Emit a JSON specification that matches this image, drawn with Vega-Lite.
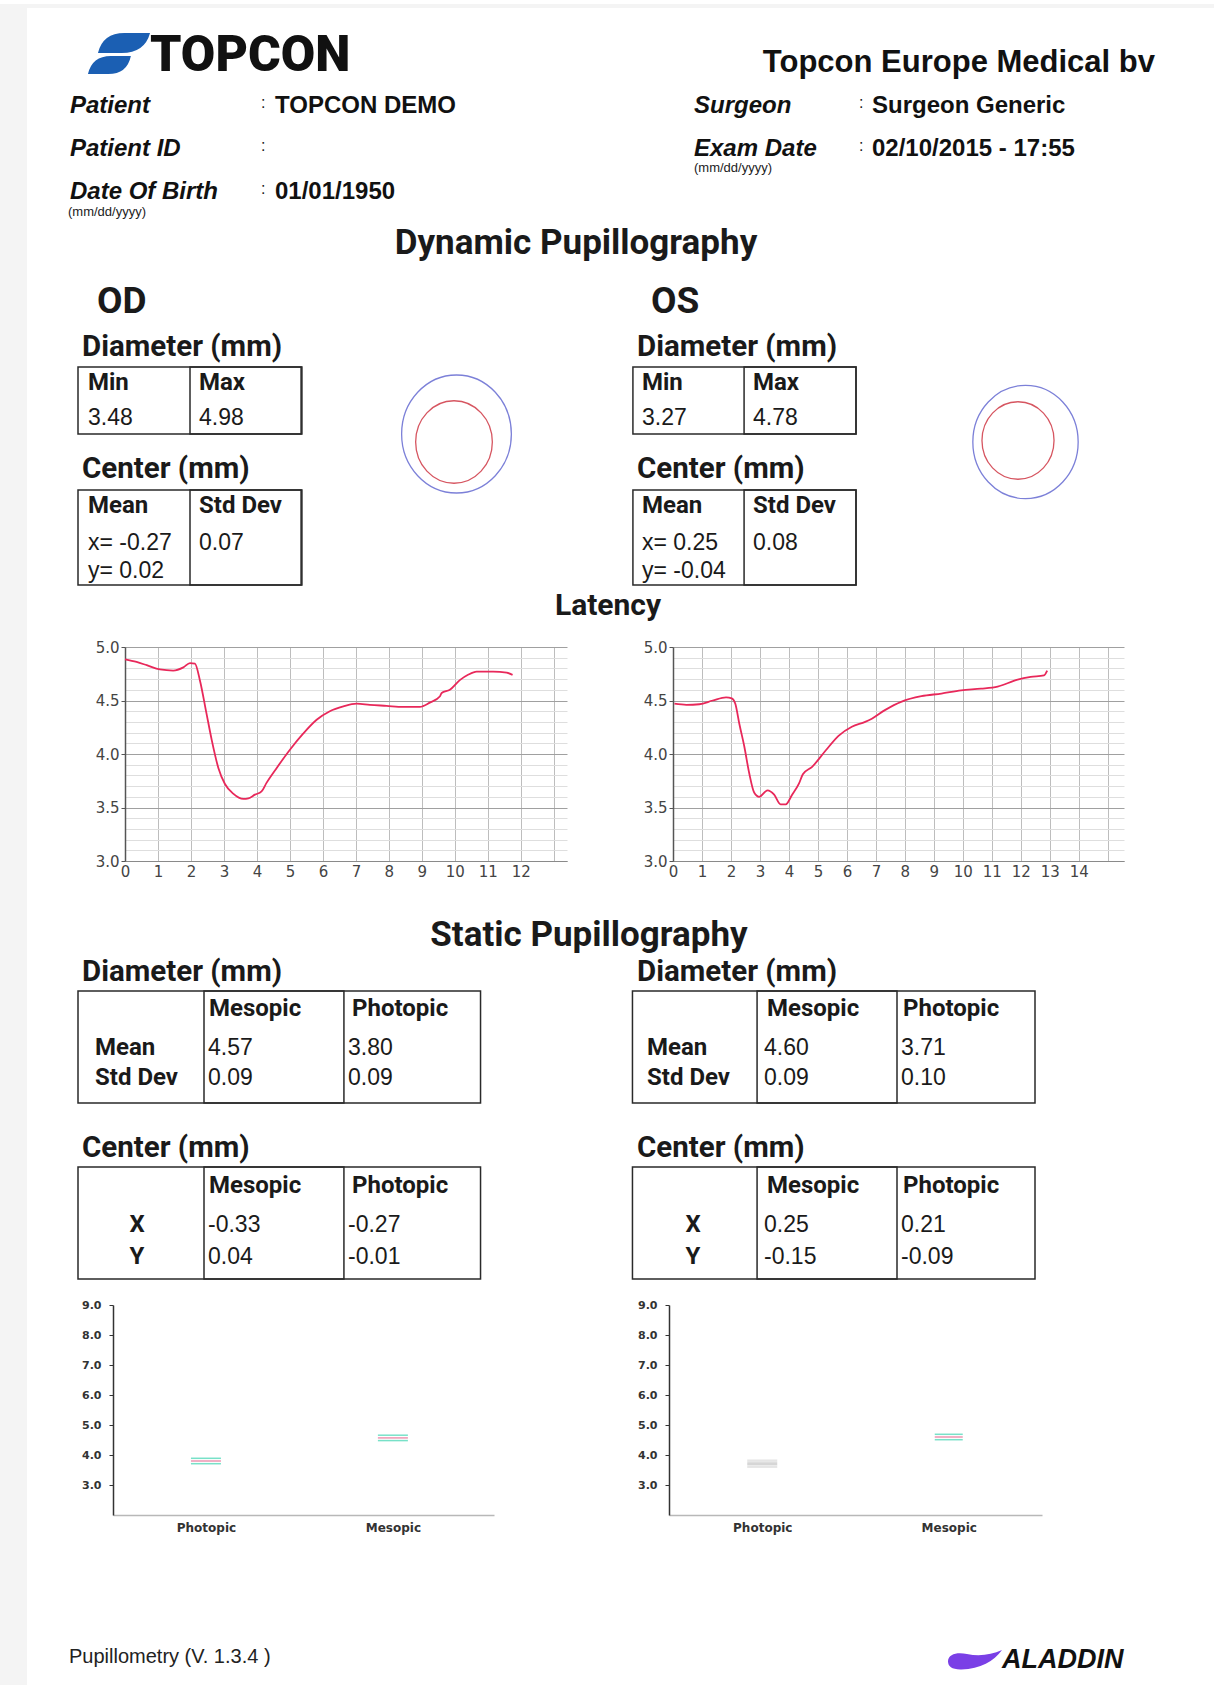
{
"$schema": "https://vega.github.io/schema/vega-lite/v6.json",
"background": "#ffffff",
"padding": 0,
"spacing": 0,
"bounds": "flush",
"config": {"view": {"stroke": null}},
"datasets": {
"brand": [{"brand": "TOPCON", "company": "Topcon Europe Medical bv", "software": "Pupillometry (V. 1.3.4 )", "vendor": "ALADDIN"}],
"header": [
{"side": "left", "line": "1", "label": "Patient", "value": "TOPCON DEMO"},
{"side": "left", "line": "2", "label": "Patient ID", "value": ""},
{"side": "left", "line": "3", "label": "Date Of Birth", "value": "01/01/1950", "note": "(mm/dd/yyyy)"},
{"side": "right", "line": "1", "label": "Surgeon", "value": "Surgeon Generic"},
{"side": "right", "line": "2", "label": "Exam Date", "value": "02/10/2015 - 17:55", "note": "(mm/dd/yyyy)"}
],
"titles": [{"title": "Dynamic Pupillography"}, {"title": "Latency"}, {"title": "Static Pupillography"}],
"eyes": [{"eye": "OD"}, {"eye": "OS"}],
"headings": [
{"eye": "OD", "heading": "Diameter (mm)"}, {"eye": "OD", "heading": "Center (mm)"},
{"eye": "OS", "heading": "Diameter (mm)"}, {"eye": "OS", "heading": "Center (mm)"}
],
"tables": [
{"eye": "OD", "table": "Diameter"}, {"eye": "OD", "table": "Center"},
{"eye": "OS", "table": "Diameter"}, {"eye": "OS", "table": "Center"}
],
"dynCells": [
{"eye": "OD", "table": "Diameter", "col": "c1", "row": "head", "text": "Min"},
{"eye": "OD", "table": "Diameter", "col": "c2", "row": "head", "text": "Max"},
{"eye": "OD", "table": "Diameter", "col": "c1", "row": "r1", "text": "3.48"},
{"eye": "OD", "table": "Diameter", "col": "c2", "row": "r1", "text": "4.98"},
{"eye": "OD", "table": "Center", "col": "c1", "row": "head", "text": "Mean"},
{"eye": "OD", "table": "Center", "col": "c2", "row": "head", "text": "Std Dev"},
{"eye": "OD", "table": "Center", "col": "c1", "row": "r1", "text": "x= -0.27"},
{"eye": "OD", "table": "Center", "col": "c1", "row": "r2", "text": "y= 0.02"},
{"eye": "OD", "table": "Center", "col": "c2", "row": "r1", "text": "0.07"},
{"eye": "OS", "table": "Diameter", "col": "c1", "row": "head", "text": "Min"},
{"eye": "OS", "table": "Diameter", "col": "c2", "row": "head", "text": "Max"},
{"eye": "OS", "table": "Diameter", "col": "c1", "row": "r1", "text": "3.27"},
{"eye": "OS", "table": "Diameter", "col": "c2", "row": "r1", "text": "4.78"},
{"eye": "OS", "table": "Center", "col": "c1", "row": "head", "text": "Mean"},
{"eye": "OS", "table": "Center", "col": "c2", "row": "head", "text": "Std Dev"},
{"eye": "OS", "table": "Center", "col": "c1", "row": "r1", "text": "x= 0.25"},
{"eye": "OS", "table": "Center", "col": "c1", "row": "r2", "text": "y= -0.04"},
{"eye": "OS", "table": "Center", "col": "c2", "row": "r1", "text": "0.08"}
],
"rings": [
{"eye": "OD", "ring": "Max", "diameter": 4.98},
{"eye": "OD", "ring": "Min", "diameter": 3.48},
{"eye": "OS", "ring": "Max", "diameter": 4.78},
{"eye": "OS", "ring": "Min", "diameter": 3.27}
],
"statCells": [
{"eye": "OD", "table": "Diameter", "col": "Mesopic", "row": "head", "text": "Mesopic"},
{"eye": "OD", "table": "Diameter", "col": "Photopic", "row": "head", "text": "Photopic"},
{"eye": "OD", "table": "Diameter", "col": "label", "row": "Mean", "text": "Mean"},
{"eye": "OD", "table": "Diameter", "col": "label", "row": "Std Dev", "text": "Std Dev"},
{"eye": "OD", "table": "Diameter", "col": "Mesopic", "row": "Mean", "text": "4.57"},
{"eye": "OD", "table": "Diameter", "col": "Photopic", "row": "Mean", "text": "3.80"},
{"eye": "OD", "table": "Diameter", "col": "Mesopic", "row": "Std Dev", "text": "0.09"},
{"eye": "OD", "table": "Diameter", "col": "Photopic", "row": "Std Dev", "text": "0.09"},
{"eye": "OD", "table": "Center", "col": "Mesopic", "row": "head", "text": "Mesopic"},
{"eye": "OD", "table": "Center", "col": "Photopic", "row": "head", "text": "Photopic"},
{"eye": "OD", "table": "Center", "col": "label", "row": "X", "text": "X"},
{"eye": "OD", "table": "Center", "col": "label", "row": "Y", "text": "Y"},
{"eye": "OD", "table": "Center", "col": "Mesopic", "row": "X", "text": "-0.33"},
{"eye": "OD", "table": "Center", "col": "Photopic", "row": "X", "text": "-0.27"},
{"eye": "OD", "table": "Center", "col": "Mesopic", "row": "Y", "text": "0.04"},
{"eye": "OD", "table": "Center", "col": "Photopic", "row": "Y", "text": "-0.01"},
{"eye": "OS", "table": "Diameter", "col": "Mesopic", "row": "head", "text": "Mesopic"},
{"eye": "OS", "table": "Diameter", "col": "Photopic", "row": "head", "text": "Photopic"},
{"eye": "OS", "table": "Diameter", "col": "label", "row": "Mean", "text": "Mean"},
{"eye": "OS", "table": "Diameter", "col": "label", "row": "Std Dev", "text": "Std Dev"},
{"eye": "OS", "table": "Diameter", "col": "Mesopic", "row": "Mean", "text": "4.60"},
{"eye": "OS", "table": "Diameter", "col": "Photopic", "row": "Mean", "text": "3.71"},
{"eye": "OS", "table": "Diameter", "col": "Mesopic", "row": "Std Dev", "text": "0.09"},
{"eye": "OS", "table": "Diameter", "col": "Photopic", "row": "Std Dev", "text": "0.10"},
{"eye": "OS", "table": "Center", "col": "Mesopic", "row": "head", "text": "Mesopic"},
{"eye": "OS", "table": "Center", "col": "Photopic", "row": "head", "text": "Photopic"},
{"eye": "OS", "table": "Center", "col": "label", "row": "X", "text": "X"},
{"eye": "OS", "table": "Center", "col": "label", "row": "Y", "text": "Y"},
{"eye": "OS", "table": "Center", "col": "Mesopic", "row": "X", "text": "0.25"},
{"eye": "OS", "table": "Center", "col": "Photopic", "row": "X", "text": "0.21"},
{"eye": "OS", "table": "Center", "col": "Mesopic", "row": "Y", "text": "-0.15"},
{"eye": "OS", "table": "Center", "col": "Photopic", "row": "Y", "text": "-0.09"}
],
"latOD": [
{"t": 0, "d": 4.885}, {"t": 0.35, "d": 4.86}, {"t": 0.66, "d": 4.83}, {"t": 1.06, "d": 4.79}, {"t": 1.46, "d": 4.78},
{"t": 1.77, "d": 4.81}, {"t": 1.97, "d": 4.85}, {"t": 2.12, "d": 4.845}, {"t": 2.27, "d": 4.69}, {"t": 2.47, "d": 4.38},
{"t": 2.63, "d": 4.13}, {"t": 2.83, "d": 3.87}, {"t": 3.03, "d": 3.72}, {"t": 3.28, "d": 3.63}, {"t": 3.59, "d": 3.58},
{"t": 3.74, "d": 3.585}, {"t": 3.94, "d": 3.62}, {"t": 4.14, "d": 3.65}, {"t": 4.29, "d": 3.73}, {"t": 4.6, "d": 3.87},
{"t": 5.0, "d": 4.04}, {"t": 5.4, "d": 4.19}, {"t": 5.81, "d": 4.32}, {"t": 6.21, "d": 4.4}, {"t": 6.62, "d": 4.445},
{"t": 7.02, "d": 4.47}, {"t": 7.42, "d": 4.46}, {"t": 7.93, "d": 4.45}, {"t": 8.43, "d": 4.44}, {"t": 8.94, "d": 4.44},
{"t": 9.24, "d": 4.48}, {"t": 9.55, "d": 4.54}, {"t": 9.6, "d": 4.57}, {"t": 9.85, "d": 4.6}, {"t": 10.15, "d": 4.69},
{"t": 10.4, "d": 4.74}, {"t": 10.66, "d": 4.77}, {"t": 11.16, "d": 4.77}, {"t": 11.57, "d": 4.76}, {"t": 11.75, "d": 4.74}
],
"latOS": [
{"t": 0.05, "d": 4.47}, {"t": 0.46, "d": 4.46}, {"t": 0.91, "d": 4.465}, {"t": 1.37, "d": 4.5}, {"t": 1.83, "d": 4.53},
{"t": 2.03, "d": 4.52}, {"t": 2.15, "d": 4.47}, {"t": 2.29, "d": 4.28}, {"t": 2.46, "d": 4.07}, {"t": 2.63, "d": 3.82},
{"t": 2.8, "d": 3.64}, {"t": 2.97, "d": 3.6}, {"t": 3.26, "d": 3.66}, {"t": 3.49, "d": 3.62}, {"t": 3.71, "d": 3.53},
{"t": 3.89, "d": 3.53}, {"t": 4.11, "d": 3.62}, {"t": 4.34, "d": 3.72}, {"t": 4.48, "d": 3.81}, {"t": 4.8, "d": 3.88},
{"t": 5.26, "d": 4.03}, {"t": 5.71, "d": 4.17}, {"t": 6.17, "d": 4.255}, {"t": 6.63, "d": 4.3}, {"t": 6.86, "d": 4.33},
{"t": 7.31, "d": 4.41}, {"t": 7.89, "d": 4.49}, {"t": 8.57, "d": 4.54}, {"t": 9.26, "d": 4.565}, {"t": 9.94, "d": 4.595},
{"t": 10.63, "d": 4.61}, {"t": 11.2, "d": 4.63}, {"t": 11.89, "d": 4.695}, {"t": 12.34, "d": 4.72}, {"t": 12.8, "d": 4.735},
{"t": 12.91, "d": 4.78}
],
"static": [
{"eye": "OD", "condition": "Photopic", "mean": 3.80, "sd": 0.09},
{"eye": "OD", "condition": "Mesopic", "mean": 4.57, "sd": 0.09},
{"eye": "OS", "condition": "Photopic", "mean": 3.71, "sd": 0.10},
{"eye": "OS", "condition": "Mesopic", "mean": 4.60, "sd": 0.09}
]
},
"hconcat": [
{"width": 27, "height": 1685, "view": {"fill": "#f4f4f4", "stroke": null}, "data": {"values": [{}]}, "mark": "text", "encoding": {"text": {"value": ""}}},
{"spacing": 0, "bounds": "flush", "vconcat": [
{"width": 1187, "height": 4, "view": {"fill": "#f4f4f4", "stroke": null}, "data": {"values": [{}]}, "mark": "text", "encoding": {"text": {"value": ""}}},
{"width": 1187, "height": 639,
 "resolve": {"scale": {"x": "independent", "y": "independent"}},
 "layer": [
 {"data": {"name": "brand"}, "mark": {"type": "point", "shape": "M -0.78 -0.04 Q -0.6 -0.78 0.2 -0.78 L 1.15 -0.78 Q 0.95 -0.04 0.1 -0.04 Z M -1.15 0.74 Q -1.0 0.07 -0.3 0.07 L 0.44 0.07 Q 0.3 0.74 -0.4 0.74 Z", "filled": true, "color": "#1b5fb3", "opacity": 1, "size": 2916, "strokeWidth": 0},
  "encoding": {"x": {"field": "brand", "type": "nominal", "scale": {"type": "point", "range": [92, 92], "padding": 0}, "axis": null},
               "y": {"field": "brand", "type": "nominal", "scale": {"type": "point", "range": [46, 46], "padding": 0}, "axis": null}}},
 {"data": {"name": "brand"}, "mark": {"type": "text", "font": "Roboto", "fontWeight": 900, "fontSize": 50, "align": "left", "baseline": "middle", "color": "#111111"},
  "encoding": {"x": {"field": "brand", "type": "nominal", "scale": {"type": "point", "range": [123, 123], "padding": 0}, "axis": null},
               "y": {"field": "brand", "type": "nominal", "scale": {"type": "point", "range": [48, 48], "padding": 0}, "axis": null},
               "text": {"field": "brand"}}},
 {"data": {"name": "brand"}, "mark": {"type": "text", "font": "Liberation Sans, Arial, sans-serif", "fontWeight": "bold", "fontSize": 31, "align": "right", "baseline": "middle", "color": "#111111"},
  "encoding": {"x": {"field": "company", "type": "nominal", "scale": {"type": "point", "range": [1128, 1128], "padding": 0}, "axis": null},
               "y": {"field": "company", "type": "nominal", "scale": {"type": "point", "range": [55, 55], "padding": 0}, "axis": null},
               "text": {"field": "company"}}},
 {"data": {"name": "header"}, "mark": {"type": "text", "font": "Liberation Sans, Arial, sans-serif", "fontWeight": "bold", "fontStyle": "italic", "fontSize": 24, "align": "left", "baseline": "middle", "color": "#111111"},
  "encoding": {"x": {"field": "side", "type": "nominal", "scale": {"type": "point", "domain": ["left", "right"], "range": [43, 667], "padding": 0}, "axis": null},
               "y": {"field": "line", "type": "nominal", "scale": {"type": "point", "domain": ["1", "2", "3"], "range": [98, 184], "padding": 0}, "axis": null},
               "text": {"field": "label"}}},
 {"data": {"name": "header"}, "mark": {"type": "text", "font": "Liberation Sans, sans-serif", "fontSize": 16, "align": "left", "baseline": "middle", "color": "#222222", "dy": -3},
  "encoding": {"x": {"field": "side", "type": "nominal", "scale": {"type": "point", "domain": ["left", "right"], "range": [234, 832], "padding": 0}, "axis": null},
               "y": {"field": "line", "type": "nominal", "scale": {"type": "point", "domain": ["1", "2", "3"], "range": [98, 184], "padding": 0}, "axis": null},
               "text": {"value": ":"}}},
 {"data": {"name": "header"}, "mark": {"type": "text", "font": "Liberation Sans, Arial, sans-serif", "fontWeight": "bold", "fontSize": 24, "align": "left", "baseline": "middle", "color": "#111111"},
  "encoding": {"x": {"field": "side", "type": "nominal", "scale": {"type": "point", "domain": ["left", "right"], "range": [248, 845], "padding": 0}, "axis": null},
               "y": {"field": "line", "type": "nominal", "scale": {"type": "point", "domain": ["1", "2", "3"], "range": [98, 184], "padding": 0}, "axis": null},
               "text": {"field": "value"}}},
 {"data": {"name": "header"}, "transform": [{"filter": "datum.note && datum.side === 'left'"}], "mark": {"type": "text", "font": "Liberation Sans, Arial, sans-serif", "fontSize": 13, "align": "left", "baseline": "middle", "color": "#222222", "dy": 20},
  "encoding": {"x": {"field": "side", "type": "nominal", "scale": {"type": "point", "domain": ["left", "right"], "range": [41, 667], "padding": 0}, "axis": null},
               "y": {"field": "line", "type": "nominal", "scale": {"type": "point", "domain": ["1", "2", "3"], "range": [98, 184], "padding": 0}, "axis": null},
               "text": {"field": "note"}}},
 {"data": {"name": "header"}, "transform": [{"filter": "datum.note && datum.side === 'right'"}], "mark": {"type": "text", "font": "Liberation Sans, Arial, sans-serif", "fontSize": 13, "align": "left", "baseline": "middle", "color": "#222222", "dy": 19},
  "encoding": {"x": {"field": "side", "type": "nominal", "scale": {"type": "point", "domain": ["left", "right"], "range": [41, 667], "padding": 0}, "axis": null},
               "y": {"field": "line", "type": "nominal", "scale": {"type": "point", "domain": ["1", "2", "3"], "range": [98, 184], "padding": 0}, "axis": null},
               "text": {"field": "note"}}},
 {"data": {"name": "titles"}, "transform": [{"filter": "datum.title === 'Dynamic Pupillography'"}], "mark": {"type": "text", "font": "Roboto", "fontWeight": "bold", "fontSize": 35, "align": "center", "baseline": "middle", "color": "#1a1a1a"},
  "encoding": {"x": {"field": "title", "type": "nominal", "scale": {"type": "point", "range": [549, 549], "padding": 0}, "axis": null},
               "y": {"field": "title", "type": "nominal", "scale": {"type": "point", "range": [235, 235], "padding": 0}, "axis": null},
               "text": {"field": "title"}}},
 {"data": {"name": "titles"}, "transform": [{"filter": "datum.title === 'Latency'"}], "mark": {"type": "text", "font": "Roboto", "fontWeight": "bold", "fontSize": 30, "align": "center", "baseline": "middle", "color": "#1a1a1a"},
  "encoding": {"x": {"field": "title", "type": "nominal", "scale": {"type": "point", "range": [581, 581], "padding": 0}, "axis": null},
               "y": {"field": "title", "type": "nominal", "scale": {"type": "point", "range": [598, 598], "padding": 0}, "axis": null},
               "text": {"field": "title"}}},
 {"data": {"name": "eyes"}, "mark": {"type": "text", "font": "Roboto", "fontWeight": "bold", "fontSize": 37, "align": "left", "baseline": "middle", "color": "#1a1a1a"},
  "encoding": {"x": {"field": "eye", "type": "nominal", "scale": {"type": "point", "domain": ["OD", "OS"], "range": [70, 624], "padding": 0}, "axis": null},
               "y": {"field": "eye", "type": "nominal", "scale": {"type": "point", "domain": ["OD", "OS"], "range": [294, 294], "padding": 0}, "axis": null},
               "text": {"field": "eye"}}},
 {"data": {"name": "headings"}, "mark": {"type": "text", "font": "Roboto", "fontWeight": "bold", "fontSize": 29.5, "align": "left", "baseline": "middle", "color": "#1a1a1a"},
  "encoding": {"x": {"field": "eye", "type": "nominal", "scale": {"type": "point", "domain": ["OD", "OS"], "range": [55, 610], "padding": 0}, "axis": null},
               "y": {"field": "heading", "type": "nominal", "scale": {"type": "point", "domain": ["Diameter (mm)", "Center (mm)"], "range": [339, 461], "padding": 0}, "axis": null},
               "text": {"field": "heading"}}},
 {"data": {"name": "tables"}, "transform": [{"filter": "datum.table === 'Diameter'"}], "mark": {"type": "rect", "fillOpacity": 0, "stroke": "#2a2a2a", "strokeWidth": 1.5},
  "encoding": {"x": {"field": "eye", "type": "nominal", "scale": {"type": "band", "domain": ["OD", "OS"], "range": [51, 829], "paddingInner": 0.598, "paddingOuter": 0}, "axis": null},
               "y": {"field": "table", "type": "nominal", "scale": {"type": "band", "domain": ["Diameter"], "range": [359, 426], "paddingInner": 0, "paddingOuter": 0}, "axis": null}}},
 {"data": {"name": "tables"}, "transform": [{"filter": "datum.table === 'Diameter'"}], "mark": {"type": "rect", "fillOpacity": 0, "stroke": "#2a2a2a", "strokeWidth": 1.5},
  "encoding": {"x": {"field": "eye", "type": "nominal", "scale": {"type": "band", "domain": ["OD", "OS"], "range": [163, 829], "paddingInner": 0.798, "paddingOuter": 0}, "axis": null},
               "y": {"field": "table", "type": "nominal", "scale": {"type": "band", "domain": ["Diameter"], "range": [359, 426], "paddingInner": 0, "paddingOuter": 0}, "axis": null}}},
 {"data": {"name": "tables"}, "transform": [{"filter": "datum.table === 'Center'"}], "mark": {"type": "rect", "fillOpacity": 0, "stroke": "#2a2a2a", "strokeWidth": 1.5},
  "encoding": {"x": {"field": "eye", "type": "nominal", "scale": {"type": "band", "domain": ["OD", "OS"], "range": [51, 829], "paddingInner": 0.598, "paddingOuter": 0}, "axis": null},
               "y": {"field": "table", "type": "nominal", "scale": {"type": "band", "domain": ["Center"], "range": [482, 577], "paddingInner": 0, "paddingOuter": 0}, "axis": null}}},
 {"data": {"name": "tables"}, "transform": [{"filter": "datum.table === 'Center'"}], "mark": {"type": "rect", "fillOpacity": 0, "stroke": "#2a2a2a", "strokeWidth": 1.5},
  "encoding": {"x": {"field": "eye", "type": "nominal", "scale": {"type": "band", "domain": ["OD", "OS"], "range": [163, 829], "paddingInner": 0.798, "paddingOuter": 0}, "axis": null},
               "y": {"field": "table", "type": "nominal", "scale": {"type": "band", "domain": ["Center"], "range": [482, 577], "paddingInner": 0, "paddingOuter": 0}, "axis": null}}},
 {"data": {"name": "dynCells"}, "transform": [{"filter": "datum.eye === 'OD' && datum.row === 'head'"}], "mark": {"type": "text", "font": "Roboto", "fontWeight": "bold", "fontSize": 24, "align": "left", "baseline": "middle", "color": "#1a1a1a"},
  "encoding": {"x": {"field": "col", "type": "nominal", "scale": {"type": "point", "domain": ["c1", "c2"], "range": [61, 172], "padding": 0}, "axis": null},
               "y": {"field": "table", "type": "nominal", "scale": {"type": "point", "domain": ["Diameter", "Center"], "range": [375, 498], "padding": 0}, "axis": null},
               "text": {"field": "text"}}},
 {"data": {"name": "dynCells"}, "transform": [{"filter": "datum.eye === 'OS' && datum.row === 'head'"}], "mark": {"type": "text", "font": "Roboto", "fontWeight": "bold", "fontSize": 24, "align": "left", "baseline": "middle", "color": "#1a1a1a"},
  "encoding": {"x": {"field": "col", "type": "nominal", "scale": {"type": "point", "domain": ["c1", "c2"], "range": [615, 726], "padding": 0}, "axis": null},
               "y": {"field": "table", "type": "nominal", "scale": {"type": "point", "domain": ["Diameter", "Center"], "range": [375, 498], "padding": 0}, "axis": null},
               "text": {"field": "text"}}},
 {"data": {"name": "dynCells"}, "transform": [{"filter": "datum.eye === 'OD' && datum.table === 'Diameter' && datum.row !== 'head'"}], "mark": {"type": "text", "font": "Liberation Sans, sans-serif", "fontSize": 23, "align": "left", "baseline": "middle", "color": "#1a1a1a"},
  "encoding": {"x": {"field": "col", "type": "nominal", "scale": {"type": "point", "domain": ["c1", "c2"], "range": [61, 172], "padding": 0}, "axis": null},
               "y": {"field": "row", "type": "nominal", "scale": {"type": "point", "domain": ["r1"], "range": [410, 410], "padding": 0}, "axis": null},
               "text": {"field": "text"}}},
 {"data": {"name": "dynCells"}, "transform": [{"filter": "datum.eye === 'OD' && datum.table === 'Center' && datum.row !== 'head'"}], "mark": {"type": "text", "font": "Liberation Sans, sans-serif", "fontSize": 23, "align": "left", "baseline": "middle", "color": "#1a1a1a"},
  "encoding": {"x": {"field": "col", "type": "nominal", "scale": {"type": "point", "domain": ["c1", "c2"], "range": [61, 172], "padding": 0}, "axis": null},
               "y": {"field": "row", "type": "nominal", "scale": {"type": "point", "domain": ["r1", "r2"], "range": [535, 563], "padding": 0}, "axis": null},
               "text": {"field": "text"}}},
 {"data": {"name": "dynCells"}, "transform": [{"filter": "datum.eye === 'OS' && datum.table === 'Diameter' && datum.row !== 'head'"}], "mark": {"type": "text", "font": "Liberation Sans, sans-serif", "fontSize": 23, "align": "left", "baseline": "middle", "color": "#1a1a1a"},
  "encoding": {"x": {"field": "col", "type": "nominal", "scale": {"type": "point", "domain": ["c1", "c2"], "range": [615, 726], "padding": 0}, "axis": null},
               "y": {"field": "row", "type": "nominal", "scale": {"type": "point", "domain": ["r1"], "range": [410, 410], "padding": 0}, "axis": null},
               "text": {"field": "text"}}},
 {"data": {"name": "dynCells"}, "transform": [{"filter": "datum.eye === 'OS' && datum.table === 'Center' && datum.row !== 'head'"}], "mark": {"type": "text", "font": "Liberation Sans, sans-serif", "fontSize": 23, "align": "left", "baseline": "middle", "color": "#1a1a1a"},
  "encoding": {"x": {"field": "col", "type": "nominal", "scale": {"type": "point", "domain": ["c1", "c2"], "range": [615, 726], "padding": 0}, "axis": null},
               "y": {"field": "row", "type": "nominal", "scale": {"type": "point", "domain": ["r1", "r2"], "range": [535, 563], "padding": 0}, "axis": null},
               "text": {"field": "text"}}},
 {"data": {"name": "rings"}, "transform": [{"filter": "datum.ring === 'Max'"}], "mark": {"type": "point", "shape": "M -0.93 0 A 0.93 1 0 1 0 0.93 0 A 0.93 1 0 1 0 -0.93 0 Z", "filled": false, "color": "#7c80d8", "stroke": "#7c80d8", "strokeWidth": 1.3, "opacity": 1},
  "encoding": {"x": {"field": "eye", "type": "nominal", "scale": {"type": "point", "domain": ["OD", "OS"], "range": [429.5, 998.5], "padding": 0}, "axis": null},
               "y": {"field": "eye", "type": "nominal", "scale": {"type": "point", "domain": ["OD", "OS"], "range": [426, 434], "padding": 0}, "axis": null},
               "size": {"field": "diameter", "type": "quantitative", "scale": {"type": "pow", "exponent": 2, "domain": [0, 4.98], "range": [0, 13924]}, "legend": null}}},
 {"data": {"name": "rings"}, "transform": [{"filter": "datum.ring === 'Min'"}], "mark": {"type": "point", "shape": "M -0.93 0 A 0.93 1 0 1 0 0.93 0 A 0.93 1 0 1 0 -0.93 0 Z", "filled": false, "color": "#d65560", "stroke": "#d65560", "strokeWidth": 1.3, "opacity": 1},
  "encoding": {"x": {"field": "eye", "type": "nominal", "scale": {"type": "point", "domain": ["OD", "OS"], "range": [427, 991], "padding": 0}, "axis": null},
               "y": {"field": "eye", "type": "nominal", "scale": {"type": "point", "domain": ["OD", "OS"], "range": [434, 432.5], "padding": 0}, "axis": null},
               "size": {"field": "diameter", "type": "quantitative", "scale": {"type": "pow", "exponent": 2, "domain": [0, 4.98], "range": [0, 13924]}, "legend": null}}}
 ]
},
{"width": 1187, "height": 214,
 "resolve": {"scale": {"x": "independent", "y": "independent"}},
 "layer": [
 {"data": {"name": "latOD"},
  "mark": {"type": "line", "interpolate": "monotone", "color": "#e8285a", "strokeWidth": 1.8},
  "encoding": {
   "x": {"field": "t", "type": "quantitative", "scale": {"domain": [0, 13.4], "range": [98, 540], "nice": false, "zero": false},
    "axis": {"title": null, "orient": "bottom", "values": [0, 1, 2, 3, 4, 5, 6, 7, 8, 9, 10, 11, 12, 13], "labelExpr": "datum.value <= 12 ? datum.label : ''", "grid": true, "gridColor": "#bdbdbd", "ticks": false, "domainColor": "#8a8a8a", "labelFont": "DejaVu Sans", "labelFontSize": 15, "labelColor": "#444444", "labelPadding": 3, "labelFlush": false, "labelOverlap": false}},
   "y": {"field": "d", "type": "quantitative", "scale": {"domain": [3, 5], "nice": false, "zero": false},
    "axis": {"title": null, "orient": "left", "offset": -98, "values": [3, 3.1, 3.2, 3.3, 3.4, 3.5, 3.6, 3.7, 3.8, 3.9, 4, 4.1, 4.2, 4.3, 4.4, 4.5, 4.6, 4.7, 4.8, 4.9, 5], "format": ".1f", "labelExpr": "round(datum.value*10) % 5 === 0 ? datum.label : ''", "grid": true, "gridColor": {"condition": {"test": "round(datum.value*10) % 5 === 0", "value": "#a0a0a0"}, "value": "#dedede"}, "tickColor": "#555555", "tickSize": 4, "tickOpacity": {"condition": {"test": "round(datum.value*10) % 5 === 0", "value": 1}, "value": 0}, "domainColor": "#555555", "domainWidth": 1.5, "labelFont": "DejaVu Sans", "labelFontSize": 15, "labelColor": "#444444", "labelPadding": 2, "labelFlush": false, "labelOverlap": false}}
  }},
 {"data": {"name": "latOS"},
  "mark": {"type": "line", "interpolate": "monotone", "color": "#e8285a", "strokeWidth": 1.8},
  "encoding": {
   "x": {"field": "t", "type": "quantitative", "scale": {"domain": [0, 15.56], "range": [646, 1097], "nice": false, "zero": false},
    "axis": {"title": null, "orient": "bottom", "values": [0, 1, 2, 3, 4, 5, 6, 7, 8, 9, 10, 11, 12, 13, 14, 15], "labelExpr": "datum.value <= 14 ? datum.label : ''", "grid": true, "gridColor": "#bdbdbd", "ticks": false, "domainColor": "#8a8a8a", "labelFont": "DejaVu Sans", "labelFontSize": 15, "labelColor": "#444444", "labelPadding": 3, "labelFlush": false, "labelOverlap": false}},
   "y": {"field": "d", "type": "quantitative", "scale": {"domain": [3, 5], "nice": false, "zero": false},
    "axis": {"title": null, "orient": "left", "offset": -646, "values": [3, 3.1, 3.2, 3.3, 3.4, 3.5, 3.6, 3.7, 3.8, 3.9, 4, 4.1, 4.2, 4.3, 4.4, 4.5, 4.6, 4.7, 4.8, 4.9, 5], "format": ".1f", "labelExpr": "round(datum.value*10) % 5 === 0 ? datum.label : ''", "grid": true, "gridColor": {"condition": {"test": "round(datum.value*10) % 5 === 0", "value": "#a0a0a0"}, "value": "#dedede"}, "tickColor": "#555555", "tickSize": 4, "tickOpacity": {"condition": {"test": "round(datum.value*10) % 5 === 0", "value": 1}, "value": 0}, "domainColor": "#555555", "domainWidth": 1.5, "labelFont": "DejaVu Sans", "labelFontSize": 15, "labelColor": "#444444", "labelPadding": 2, "labelFlush": false, "labelOverlap": false}}
  }}
 ]
},
{"width": 1187, "height": 444,
 "resolve": {"scale": {"x": "independent", "y": "independent"}},
 "layer": [
 {"data": {"name": "titles"}, "transform": [{"filter": "datum.title === 'Static Pupillography'"}], "mark": {"type": "text", "font": "Roboto", "fontWeight": "bold", "fontSize": 35, "align": "center", "baseline": "middle", "color": "#1a1a1a"},
  "encoding": {"x": {"field": "title", "type": "nominal", "scale": {"type": "point", "range": [562, 562], "padding": 0}, "axis": null},
               "y": {"field": "title", "type": "nominal", "scale": {"type": "point", "range": [74, 74], "padding": 0}, "axis": null},
               "text": {"field": "title"}}},
 {"data": {"name": "headings"}, "mark": {"type": "text", "font": "Roboto", "fontWeight": "bold", "fontSize": 29.5, "align": "left", "baseline": "middle", "color": "#1a1a1a"},
  "encoding": {"x": {"field": "eye", "type": "nominal", "scale": {"type": "point", "domain": ["OD", "OS"], "range": [55, 610], "padding": 0}, "axis": null},
               "y": {"field": "heading", "type": "nominal", "scale": {"type": "point", "domain": ["Diameter (mm)", "Center (mm)"], "range": [111, 287], "padding": 0}, "axis": null},
               "text": {"field": "heading"}}},
 {"data": {"name": "tables"}, "mark": {"type": "rect", "fillOpacity": 0, "stroke": "#2a2a2a", "strokeWidth": 1.5},
  "encoding": {"x": {"field": "eye", "type": "nominal", "scale": {"type": "band", "domain": ["OD", "OS"], "range": [51, 1008], "paddingInner": 0.274, "paddingOuter": 0}, "axis": null},
               "y": {"field": "table", "type": "nominal", "scale": {"type": "band", "domain": ["Diameter", "Center"], "range": [130, 418], "paddingInner": 0.364, "paddingOuter": 0}, "axis": null}}},
 {"data": {"name": "tables"}, "mark": {"type": "rect", "fillOpacity": 0, "stroke": "#2a2a2a", "strokeWidth": 1.5},
  "encoding": {"x": {"field": "eye", "type": "nominal", "scale": {"type": "band", "domain": ["OD", "OS"], "range": [177, 870], "paddingInner": 0.747, "paddingOuter": 0}, "axis": null},
               "y": {"field": "table", "type": "nominal", "scale": {"type": "band", "domain": ["Diameter", "Center"], "range": [130, 418], "paddingInner": 0.364, "paddingOuter": 0}, "axis": null}}},
 {"data": {"name": "statCells"}, "transform": [{"filter": "datum.table === 'Diameter' && datum.col === 'label'"}], "mark": {"type": "text", "font": "Roboto", "fontWeight": "bold", "fontSize": 24, "align": "left", "baseline": "middle", "color": "#1a1a1a"},
  "encoding": {"x": {"field": "eye", "type": "nominal", "scale": {"type": "point", "domain": ["OD", "OS"], "range": [68, 620], "padding": 0}, "axis": null},
               "y": {"field": "row", "type": "nominal", "scale": {"type": "point", "domain": ["Mean", "Std Dev"], "range": [187, 217], "padding": 0}, "axis": null},
               "text": {"field": "text"}}},
 {"data": {"name": "statCells"}, "transform": [{"filter": "datum.table === 'Center' && datum.col === 'label'"}], "mark": {"type": "text", "font": "Roboto", "fontWeight": "bold", "fontSize": 24, "align": "center", "baseline": "middle", "color": "#1a1a1a"},
  "encoding": {"x": {"field": "eye", "type": "nominal", "scale": {"type": "point", "domain": ["OD", "OS"], "range": [110, 666], "padding": 0}, "axis": null},
               "y": {"field": "row", "type": "nominal", "scale": {"type": "point", "domain": ["X", "Y"], "range": [364, 396], "padding": 0}, "axis": null},
               "text": {"field": "text"}}},
 {"data": {"name": "statCells"}, "transform": [{"filter": "datum.eye === 'OD' && datum.row === 'head'"}], "mark": {"type": "text", "font": "Roboto", "fontWeight": "bold", "fontSize": 24, "align": "left", "baseline": "middle", "color": "#1a1a1a"},
  "encoding": {"x": {"field": "col", "type": "nominal", "scale": {"type": "point", "domain": ["Mesopic", "Photopic"], "range": [182, 325], "padding": 0}, "axis": null},
               "y": {"field": "table", "type": "nominal", "scale": {"type": "point", "domain": ["Diameter", "Center"], "range": [148, 325], "padding": 0}, "axis": null},
               "text": {"field": "text"}}},
 {"data": {"name": "statCells"}, "transform": [{"filter": "datum.eye === 'OS' && datum.row === 'head'"}], "mark": {"type": "text", "font": "Roboto", "fontWeight": "bold", "fontSize": 24, "align": "left", "baseline": "middle", "color": "#1a1a1a"},
  "encoding": {"x": {"field": "col", "type": "nominal", "scale": {"type": "point", "domain": ["Mesopic", "Photopic"], "range": [740, 876], "padding": 0}, "axis": null},
               "y": {"field": "table", "type": "nominal", "scale": {"type": "point", "domain": ["Diameter", "Center"], "range": [148, 325], "padding": 0}, "axis": null},
               "text": {"field": "text"}}},
 {"data": {"name": "statCells"}, "transform": [{"filter": "datum.eye === 'OD' && datum.table === 'Diameter' && datum.row !== 'head' && datum.col !== 'label'"}], "mark": {"type": "text", "font": "Liberation Sans, sans-serif", "fontSize": 23, "align": "left", "baseline": "middle", "color": "#1a1a1a"},
  "encoding": {"x": {"field": "col", "type": "nominal", "scale": {"type": "point", "domain": ["Mesopic", "Photopic"], "range": [181, 321], "padding": 0}, "axis": null},
               "y": {"field": "row", "type": "nominal", "scale": {"type": "point", "domain": ["Mean", "Std Dev"], "range": [187, 217], "padding": 0}, "axis": null},
               "text": {"field": "text"}}},
 {"data": {"name": "statCells"}, "transform": [{"filter": "datum.eye === 'OD' && datum.table === 'Center' && datum.row !== 'head' && datum.col !== 'label'"}], "mark": {"type": "text", "font": "Liberation Sans, sans-serif", "fontSize": 23, "align": "left", "baseline": "middle", "color": "#1a1a1a"},
  "encoding": {"x": {"field": "col", "type": "nominal", "scale": {"type": "point", "domain": ["Mesopic", "Photopic"], "range": [181, 321], "padding": 0}, "axis": null},
               "y": {"field": "row", "type": "nominal", "scale": {"type": "point", "domain": ["X", "Y"], "range": [364, 396], "padding": 0}, "axis": null},
               "text": {"field": "text"}}},
 {"data": {"name": "statCells"}, "transform": [{"filter": "datum.eye === 'OS' && datum.table === 'Diameter' && datum.row !== 'head' && datum.col !== 'label'"}], "mark": {"type": "text", "font": "Liberation Sans, sans-serif", "fontSize": 23, "align": "left", "baseline": "middle", "color": "#1a1a1a"},
  "encoding": {"x": {"field": "col", "type": "nominal", "scale": {"type": "point", "domain": ["Mesopic", "Photopic"], "range": [737, 874], "padding": 0}, "axis": null},
               "y": {"field": "row", "type": "nominal", "scale": {"type": "point", "domain": ["Mean", "Std Dev"], "range": [187, 217], "padding": 0}, "axis": null},
               "text": {"field": "text"}}},
 {"data": {"name": "statCells"}, "transform": [{"filter": "datum.eye === 'OS' && datum.table === 'Center' && datum.row !== 'head' && datum.col !== 'label'"}], "mark": {"type": "text", "font": "Liberation Sans, sans-serif", "fontSize": 23, "align": "left", "baseline": "middle", "color": "#1a1a1a"},
  "encoding": {"x": {"field": "col", "type": "nominal", "scale": {"type": "point", "domain": ["Mesopic", "Photopic"], "range": [737, 874], "padding": 0}, "axis": null},
               "y": {"field": "row", "type": "nominal", "scale": {"type": "point", "domain": ["X", "Y"], "range": [364, 396], "padding": 0}, "axis": null},
               "text": {"field": "text"}}}
 ]
},
{"width": 1187, "height": 210,
 "resolve": {"scale": {"x": "independent", "y": "independent"}},
 "layer": [
 {"data": {"name": "static"}, "transform": [{"filter": "datum.eye === 'OD'"}],
  "encoding": {
   "x": {"field": "condition", "type": "nominal", "scale": {"type": "point", "domain": ["Photopic", "Mesopic"], "range": [86, 467], "padding": 0.519, "align": 0.479},
    "axis": {"title": null, "orient": "bottom", "ticks": false, "domainColor": "#b8b8b8", "domainWidth": 1.5, "labelFont": "DejaVu Sans", "labelFontWeight": "bold", "labelFontSize": 12, "labelColor": "#333333", "labelPadding": 7, "labelAngle": 0}},
   "y": {"field": "mean", "type": "quantitative", "scale": {"domain": [2, 9], "nice": false, "zero": false},
    "axis": {"title": null, "orient": "left", "offset": -86, "values": [3, 4, 5, 6, 7, 8, 9], "format": ".1f", "grid": false, "domainColor": "#333333", "domainWidth": 1.5, "tickColor": "#333333", "tickSize": 4, "labelFont": "DejaVu Sans", "labelFontWeight": "bold", "labelFontSize": 11, "labelColor": "#333333", "labelPadding": 8}}
  },
  "layer": [
   {"mark": {"type": "errorbar", "rule": false, "ticks": {"size": 30, "thickness": 1.5, "color": "#3fd4b0"}}, "encoding": {"yError": {"field": "sd"}}},
   {"mark": {"type": "tick", "size": 30, "thickness": 1.5, "color": "#e66a92"}}
  ]},
 {"data": {"name": "static"}, "transform": [{"filter": "datum.eye === 'OS'"}],
  "encoding": {
   "x": {"field": "condition", "type": "nominal", "scale": {"type": "point", "domain": ["Photopic", "Mesopic"], "range": [642, 1015], "padding": 0.5, "align": 0.5},
    "axis": {"title": null, "orient": "bottom", "ticks": false, "domainColor": "#b8b8b8", "domainWidth": 1.5, "labelFont": "DejaVu Sans", "labelFontWeight": "bold", "labelFontSize": 12, "labelColor": "#333333", "labelPadding": 7, "labelAngle": 0}},
   "y": {"field": "mean", "type": "quantitative", "scale": {"domain": [2, 9], "nice": false, "zero": false},
    "axis": {"title": null, "orient": "left", "offset": -642, "values": [3, 4, 5, 6, 7, 8, 9], "format": ".1f", "grid": false, "domainColor": "#333333", "domainWidth": 1.5, "tickColor": "#333333", "tickSize": 4, "labelFont": "DejaVu Sans", "labelFontWeight": "bold", "labelFontSize": 11, "labelColor": "#333333", "labelPadding": 8}}
  },
  "layer": [
   {"transform": [{"filter": "datum.condition === 'Mesopic'"}], "mark": {"type": "errorbar", "rule": false, "ticks": {"size": 28, "thickness": 1.5, "color": "#3fd4b0"}}, "encoding": {"yError": {"field": "sd"}}},
   {"transform": [{"filter": "datum.condition === 'Mesopic'"}], "mark": {"type": "tick", "size": 28, "thickness": 1.5, "color": "#e66a92"}},
   {"transform": [{"filter": "datum.condition === 'Photopic'"}], "mark": {"type": "errorbar", "rule": false, "ticks": {"size": 30, "thickness": 2.5, "color": "#dadada"}}, "encoding": {"yError": {"field": "sd"}}},
   {"transform": [{"filter": "datum.condition === 'Photopic'"}], "mark": {"type": "tick", "size": 30, "thickness": 3, "color": "#c4c4c4"}}
  ]}
 ]
},
{"width": 1187, "height": 171,
 "resolve": {"scale": {"x": "independent", "y": "independent"}},
 "layer": [
 {"data": {"name": "brand"}, "mark": {"type": "text", "font": "Liberation Sans, Arial, sans-serif", "fontSize": 20, "align": "left", "baseline": "middle", "color": "#222222"},
  "encoding": {"x": {"field": "software", "type": "nominal", "scale": {"type": "point", "range": [42, 42], "padding": 0}, "axis": null},
               "y": {"field": "software", "type": "nominal", "scale": {"type": "point", "range": [142, 142], "padding": 0}, "axis": null},
               "text": {"field": "software"}}},
 {"data": {"name": "brand"}, "mark": {"type": "point", "shape": "M -1 0.05 C -1 -0.25 -0.6 -0.3 -0.3 -0.22 C 0.2 -0.12 0.6 -0.2 1 -0.37 C 0.7 0.05 0.2 0.33 -0.5 0.35 C -0.85 0.36 -1 0.25 -1 0.05 Z", "filled": true, "color": "#7a3fe6", "opacity": 1, "size": 2916, "strokeWidth": 0},
  "encoding": {"x": {"field": "vendor", "type": "nominal", "scale": {"type": "point", "range": [948, 948], "padding": 0}, "axis": null},
               "y": {"field": "vendor", "type": "nominal", "scale": {"type": "point", "range": [145, 145], "padding": 0}, "axis": null}}},
 {"data": {"name": "brand"}, "mark": {"type": "text", "font": "Liberation Sans, Arial, sans-serif", "fontWeight": "bold", "fontStyle": "italic", "fontSize": 27, "align": "left", "baseline": "middle", "color": "#111111"},
  "encoding": {"x": {"field": "vendor", "type": "nominal", "scale": {"type": "point", "range": [975, 975], "padding": 0}, "axis": null},
               "y": {"field": "vendor", "type": "nominal", "scale": {"type": "point", "range": [145, 145], "padding": 0}, "axis": null},
               "text": {"field": "vendor"}}}
 ]
}
]}
]
}
